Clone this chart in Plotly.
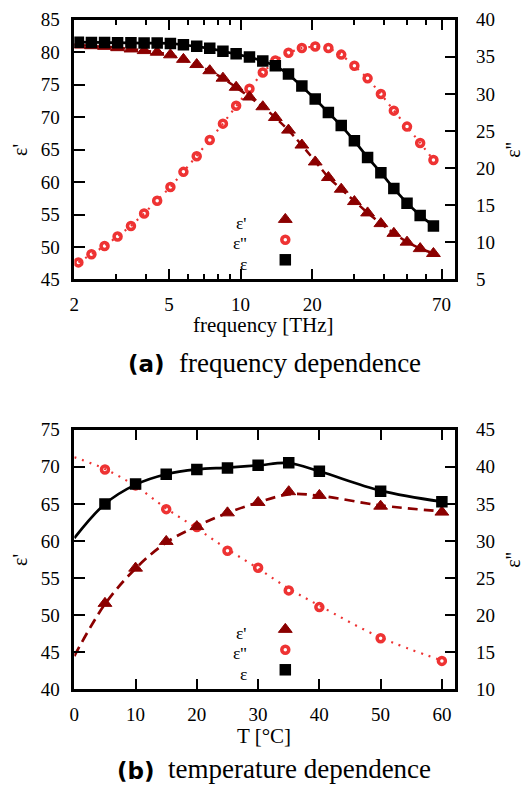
import math
import plotly.graph_objects as go

W, H = 524, 803

# ---------------- data: (a) frequency dependence ----------------
freq_THz = [2.08, 2.36, 2.68, 3.04, 3.46, 3.93, 4.46, 5.07, 5.75, 6.54,
            7.42, 8.43, 9.58, 10.9, 12.4, 14.0, 15.9, 18.1, 20.6, 23.4,
            26.5, 30.1, 34.2, 38.9, 44.1, 50.1, 56.9, 64.7]
eps_real_f = [81.1, 81.0, 80.9, 80.7, 80.5, 80.25, 80.0, 79.6, 78.9, 78.1,
              77.15, 76.0, 74.6, 73.1, 71.6, 69.95, 68.0, 65.7, 63.1, 60.7,
              58.9, 57.0, 55.25, 53.6, 52.1, 50.75, 49.75, 49.0]
eps_imag_f = [7.3, 8.4, 9.5, 10.8, 12.2, 13.9, 15.6, 17.45, 19.5, 21.6,
              23.8, 26.0, 28.4, 30.7, 32.9, 34.5, 35.55, 36.2, 36.4, 36.2,
              35.3, 33.8, 32.1, 30.0, 27.75, 25.6, 23.4, 21.1]
eps_abs_f = [81.55, 81.5, 81.5, 81.45, 81.45, 81.4, 81.4, 81.35, 81.15, 80.9,
             80.6, 80.15, 79.75, 79.25, 78.65, 77.9, 76.65, 74.8, 72.8, 70.7,
             68.7, 66.35, 63.8, 61.45, 59.0, 56.75, 54.85, 53.25]

freq_ticks = [2, 5, 10, 20, 70]
freq_minor_ticks = [3, 4, 6, 7, 8, 9, 30, 40, 50, 60]

# ---------------- data: (b) temperature dependence ----------------
temp_C = [5, 10, 15, 20, 25, 30, 35, 40, 50, 60]
eps_real_T = [51.6, 56.35, 59.95, 61.95, 63.8, 65.2, 66.65, 66.15, 64.7, 63.9]
eps_imag_T = [39.65, 37.5, 34.3, 31.9, 28.7, 26.4, 23.35, 21.1, 16.9, 13.85]
eps_abs_T = [65.0, 67.7, 69.0, 69.65, 69.85, 70.2, 70.55, 69.4, 66.7, 65.3]

temp_fit = [0, 5, 10, 15, 20, 25, 30, 35, 40, 50, 60]
eps_real_T_fit = [44.5, 51.5, 56.3, 59.8, 62.0, 63.8, 65.2, 66.3, 66.1, 64.8, 64.0]
eps_imag_T_fit = [41.3, 39.7, 37.4, 34.4, 31.7, 28.9, 26.3, 23.6, 21.3, 17.0, 13.9]
eps_abs_T_fit = [60.4, 65.0, 67.6, 69.0, 69.65, 69.9, 70.2, 70.5, 69.4, 66.8, 65.3]

temp_ticks = [0, 10, 20, 30, 40, 50, 60]

legend_labels = ["ε'", "ε''", "ε"]

# ---------------- styles ----------------
C_REAL = "#8B0000"
C_IMAG = "#EE3333"
C_ABS = "#000000"
SERIF = "Liberation Serif"
SANS_BOLD = "DejaVu Sans"
TICKFONT = dict(family=SERIF, size=19, color="black")


def fx(p):
    return p / W


def fy(p):
    return 1 - p / H


X_DOM = [fx(70), fx(454.7)]
Y_TOP = [fy(276.7), fy(10)]
Y_BOT = [fy(697.7), fy(431)]

m_tri = dict(symbol="triangle-up", size=12, color=C_REAL, line=dict(color=C_REAL, width=1))
m_circ = dict(symbol="circle-open", size=7, color=C_IMAG, line=dict(color=C_IMAG, width=3.5))
m_sq = dict(symbol="square", size=11.5, color=C_ABS, line=dict(width=0))

fig = go.Figure()

# ---- top panel ----  (y = right axis eps'', y2 = left axis overlaid)
fig.add_trace(go.Scatter(x=freq_THz, y=eps_imag_f, mode="lines+markers", xaxis="x", yaxis="y",
                         line=dict(color=C_IMAG, width=2.2, dash="2px,6px"), marker=m_circ))
fig.add_trace(go.Scatter(x=freq_THz, y=eps_real_f, mode="lines+markers", xaxis="x", yaxis="y2",
                         line=dict(color=C_REAL, width=2.5, dash="8px,5px"), marker=m_tri))
fig.add_trace(go.Scatter(x=freq_THz, y=eps_abs_f, mode="lines+markers", xaxis="x", yaxis="y2",
                         line=dict(color=C_ABS, width=2.7), marker=m_sq))

# ---- bottom panel ---- (y3 = right axis eps'', y4 = left axis overlaid)
fig.add_trace(go.Scatter(x=temp_fit, y=eps_imag_T_fit, mode="lines", xaxis="x2", yaxis="y3",
                         line=dict(color=C_IMAG, width=2.2, dash="2px,6px", shape="spline")))
fig.add_trace(go.Scatter(x=temp_C, y=eps_imag_T, mode="markers", xaxis="x2", yaxis="y3", marker=m_circ))
fig.add_trace(go.Scatter(x=temp_fit, y=eps_real_T_fit, mode="lines", xaxis="x2", yaxis="y4",
                         line=dict(color=C_REAL, width=2.7, dash="10px,6px", shape="spline")))
fig.add_trace(go.Scatter(x=temp_fit, y=eps_abs_T_fit, mode="lines", xaxis="x2", yaxis="y4",
                         line=dict(color=C_ABS, width=2.7, shape="spline")))
fig.add_trace(go.Scatter(x=temp_C, y=eps_real_T, mode="markers", xaxis="x2", yaxis="y4", marker=m_tri))
fig.add_trace(go.Scatter(x=temp_C, y=eps_abs_T, mode="markers", xaxis="x2", yaxis="y4", marker=m_sq))

# ---- key markers (pixel-space overlay axis) ----
KEY_MX = 283
KEY_MY_TOP = [215, 236, 256.5]
KEY_TX = 246
KEY_TY_TOP = [218.5, 239.5, 260.5]
PANEL_SHIFT = 421
for shift in (0, PANEL_SHIFT):
    for sym, yy in zip([m_tri, m_circ, m_sq], KEY_MY_TOP):
        fig.add_trace(go.Scatter(x=[KEY_MX], y=[yy + shift], mode="markers", xaxis="x3", yaxis="y5",
                                 marker=sym, hoverinfo="skip"))

axis_common = dict(showgrid=False, zeroline=False, showline=True, linecolor="black", linewidth=2.5,
                   ticks="inside", tickcolor="black", tickwidth=2, ticklen=11, tickfont=TICKFONT)

annotations = []


def ann(text, x, y, size=20, xanchor="center", yanchor="middle", angle=0, family=SERIF, bold=False):
    t = "<b>%s</b>" % text if bold else text
    annotations.append(dict(text=t, x=fx(x), y=fy(y), xref="paper", yref="paper", showarrow=False,
                            xanchor=xanchor, yanchor=yanchor, textangle=angle,
                            font=dict(family=family, size=size, color="black")))


# axis titles and key texts
for off in (0, PANEL_SHIFT):
    ann("ε'", 14.5, 143.3 + off, angle=-90)
    ann("ε''", 512, 143.3 + off, angle=-90)
    for lab, yy in zip(legend_labels, KEY_TY_TOP):
        ann(lab, KEY_TX, yy + off, size=17.5, xanchor="right")
ann("frequency [THz]", 261, 323.3, size=21)
ann("T [°C]", 261, 745, size=21)

# captions
ann("(a)", 164, 364, size=23, xanchor="right", family=SANS_BOLD, bold=True)
ann("frequency dependence", 174, 362, size=27, xanchor="left")
ann("(b)", 153, 781, size=23, xanchor="right", family=SANS_BOLD, bold=True)
ann("temperature dependence", 163, 779, size=27, xanchor="left")

fig.update_layout(
    width=W, height=H, margin=dict(l=0, r=0, t=0, b=0),
    font=dict(family=SERIF),
    paper_bgcolor="white", plot_bgcolor="rgba(0,0,0,0)", showlegend=False,
    xaxis=dict(axis_common, type="log", domain=X_DOM, anchor="y",
               range=[math.log10(2), math.log10(80)],
               tickmode="array", tickvals=freq_ticks, ticktext=[str(v) for v in freq_ticks],
               mirror="ticks", ticklabelstandoff=6,
               minor=dict(tickmode="array", tickvals=freq_minor_ticks, ticks="inside", ticklen=6,
                          tickwidth=2, tickcolor="black")),
    yaxis=dict(axis_common, domain=Y_TOP, anchor="x", side="right", range=[5, 40],
               tickmode="linear", tick0=5, dtick=5, ticklabelstandoff=14),
    yaxis2=dict(axis_common, overlaying="y", anchor="x", side="left", range=[45, 85],
                tickmode="linear", tick0=45, dtick=5, ticklabelstandoff=8),
    xaxis2=dict(axis_common, domain=X_DOM, anchor="y3", range=[0, 62.2],
                tickmode="array", tickvals=temp_ticks, mirror="ticks", ticklabelstandoff=6),
    yaxis3=dict(axis_common, domain=Y_BOT, anchor="x2", side="right", range=[10, 45],
                tickmode="linear", tick0=10, dtick=5, ticklabelstandoff=14),
    yaxis4=dict(axis_common, overlaying="y3", anchor="x2", side="left", range=[40, 75],
                tickmode="linear", tick0=40, dtick=5, ticklabelstandoff=8),
    xaxis3=dict(domain=[0, 1], range=[0, W], visible=False, anchor="y5", fixedrange=True),
    yaxis5=dict(domain=[0, 1], range=[H, 0], visible=False, anchor="x3", fixedrange=True),
    annotations=annotations,
)

fig.write_html("out.html")
